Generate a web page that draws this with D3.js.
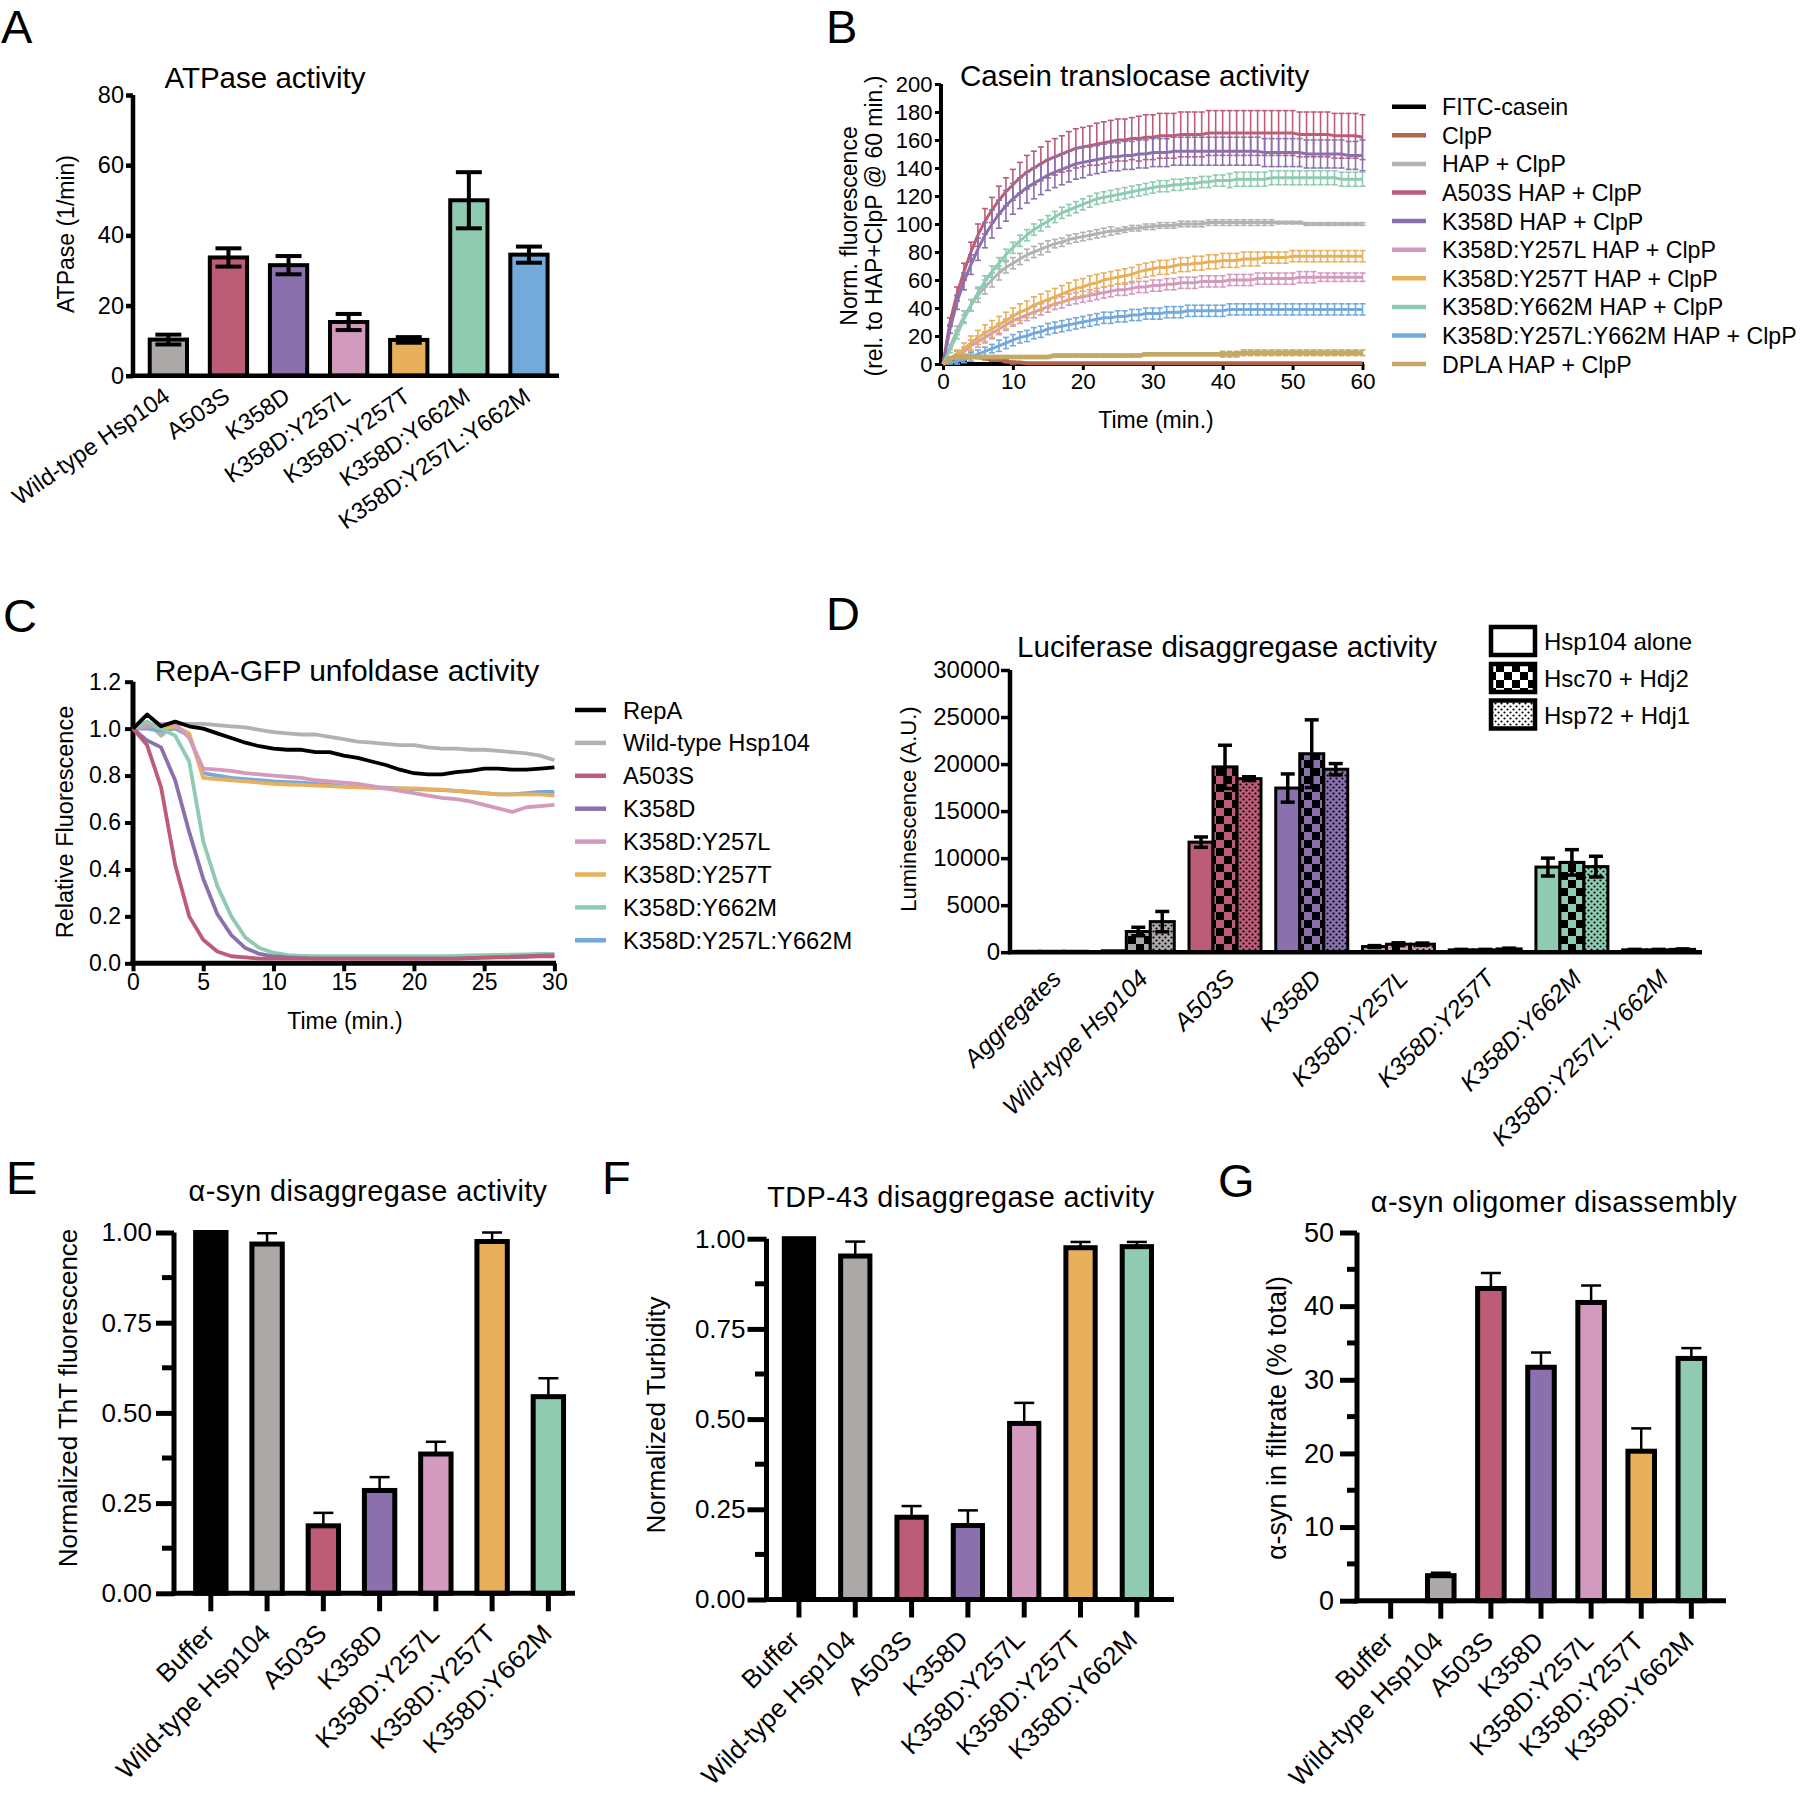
<!DOCTYPE html>
<html>
<head>
<meta charset="utf-8">
<script src="https://cdn.jsdelivr.net/npm/d3@7/dist/d3.min.js"></script>
<style>
html,body{margin:0;padding:0;background:#fff;}
svg{display:block;}
</style>
</head>
<body>
<svg id="fig" width="1800" height="1795" xmlns="http://www.w3.org/2000/svg"></svg>
<script>
// ======================= DATA =======================
// ---- Panel A: ATPase activity ----
const atpCategories = ["Wild-type Hsp104","A503S","K358D","K358D:Y257L","K358D:Y257T","K358D:Y662M","K358D:Y257L:Y662M"];
const atpValues = [10.3, 33.7, 31.5, 15.3, 10.2, 50.0, 34.5];
const atpErrors = [1.4, 2.6, 2.6, 2.3, 0.8, 8.0, 2.3];
const atpTicks = [0, 20, 40, 60, 80];

// ---- Panel B: Casein translocase activity ----
const caseinTime = [0,1,2,3,4,5,6,7,8,9,10,11,12,13,14,15,16,17,18,19,20,21,22,23,24,25,26,27,28,29,30,
  31,32,33,34,35,36,37,38,39,40,41,42,43,44,45,46,47,48,49,50,51,52,53,54,55,56,57,58,59,60];
const caseinNames = ["FITC-casein","ClpP","HAP + ClpP","A503S HAP + ClpP","K358D HAP + ClpP",
  "K358D:Y257L HAP + ClpP","K358D:Y257T HAP + ClpP","K358D:Y662M HAP + ClpP","K358D:Y257L:Y662M HAP + ClpP","DPLA HAP + ClpP"];
const caseinFITC = [0,2,3,1,0,0,0,0,0,0, 0,0,0,0,0,0,0,0,0,0, 0,0,0,0,0,0,0,0,0,0, 0,0,0,0,0,0,0,0,0,0, 0,0,0,0,0,0,0,0,0,0, 0,0,0,0,0,0,0,0,0,0, 0];
const caseinFITCsd = [0,1,1,1,0,0,0,0,0,0, 0,0,0,0,0,0,0,0,0,0, 0,0,0,0,0,0,0,0,0,0, 0,0,0,0,0,0,0,0,0,0, 0,0,0,0,0,0,0,0,0,0, 0,0,0,0,0,0,0,0,0,0, 0];
const caseinClpP = [0,4,6,6,5,5,4,3,3,2, 1,1,0.5,0.5,0.5,0.5,0.5,0.5,0.5,0.5, 0.5,0.5,0.5,0.5,0.5,0.5,0.5,0.5,0.5,0.5, 0.5,0.5,0.5,0.5,0.5,0.5,0.5,0.5,0.5,0.5, 0.5,0.5,0.5,0.5,0.5,0.5,0.5,0.5,0.5,0.5, 0.5,0.5,0.5,0.5,0.5,0.5,0.5,0.5,0.5,0.5, 0.5];
const caseinClpPsd = [0,1,1,1,1,1,1,1,1,1, 1,0,0,0,0,0,0,0,0,0, 0,0,0,0,0,0,0,0,0,0, 0,0,0,0,0,0,0,0,0,0, 0,0,0,0,0,0,0,0,0,0, 0,0,0,0,0,0,0,0,0,0, 0];
const caseinHAP = [0,12,24,34,42,49,55,60,65,69, 72,75,78,80,82,84,86,87,89,90, 91,92,93,94,95,95,96,97,97,98, 98,99,99,99,100,100,100,100,101,101, 101,101,101,101,101,101,101,101,101,101, 101,101,100,100,100,100,100,100,100,100, 100];
const caseinHAPsd = [0,2,3,4,4,5,5,5,5,4, 4,4,4,4,4,4,3,3,3,3, 3,3,3,3,3,2,2,2,2,2, 2,2,2,2,2,2,2,2,2,2, 2,2,2,2,2,2,2,2,1,1, 1,1,1,1,1,1,1,1,1,1, 1];
const caseinA503S = [0,30,50,66,80,92,102,110,117,123, 128,133,137,140,143,146,148,150,152,154, 155,156,157,158,159,160,160,161,161,162, 162,163,163,163,164,164,164,164,165,165, 165,165,165,165,165,165,165,165,165,165, 165,164,164,164,164,164,163,163,163,163, 162];
const caseinA503Ssd = [0,3,5,6,7,8,9,9,10,10, 11,11,12,12,12,13,13,13,14,14, 14,14,15,15,15,15,15,15,16,16, 16,16,16,16,16,16,16,16,16,16, 16,16,16,16,16,16,16,16,16,16, 16,16,16,16,16,16,16,16,16,16, 16];
const caseinK358D = [0,25,44,59,71,82,92,100,107,113, 118,122,126,129,132,135,137,139,141,143, 144,145,146,147,148,148,149,149,150,150, 151,151,151,152,152,152,152,152,152,152, 152,152,152,152,152,152,151,151,151,151, 151,151,150,150,150,150,150,150,149,149, 149];
const caseinK358Dsd = [0,3,5,6,7,8,9,10,10,11, 11,11,11,11,11,11,11,11,11,11, 11,10,10,10,10,10,10,10,10,10, 10,10,10,10,10,10,10,10,10,10, 10,10,10,10,10,10,10,10,10,10, 10,10,10,10,10,10,10,10,10,10, 11];
const caseinY257L = [0,3,6,9,13,16,19,22,25,28, 31,33,35,37,39,41,43,44,46,47, 48,49,50,51,52,53,53,54,55,55, 56,56,57,57,58,58,58,59,59,59, 59,60,60,60,60,61,61,61,61,61, 61,62,62,62,62,62,62,62,62,62, 62];
const caseinY257Lsd = [0,2,3,3,4,4,4,4,4,4, 4,4,4,4,4,4,4,4,4,4, 4,4,4,4,4,4,4,4,4,4, 4,4,4,4,4,4,4,4,4,4, 4,4,4,4,4,4,4,4,4,4, 4,4,4,4,3,3,3,3,3,3, 3];
const caseinY257T = [0,3,7,11,15,19,22,25,28,31, 34,37,39,42,44,46,48,50,52,54, 55,57,58,60,61,62,63,64,66,67, 68,69,69,70,71,71,72,72,73,73, 74,74,74,75,75,75,76,76,76,76, 77,77,77,77,77,77,77,77,77,77, 77];
const caseinY257Tsd = [0,2,3,4,5,5,6,6,6,6, 6,6,6,6,6,6,6,6,6,6, 6,6,6,5,5,5,5,5,5,5, 5,5,5,5,5,5,5,5,5,5, 5,5,5,5,5,5,4,4,4,4, 4,4,4,4,4,4,4,4,4,4, 4];
const caseinY662M = [0,10,21,32,42,51,59,66,72,78, 83,88,92,96,99,102,105,108,110,112, 114,116,118,119,120,121,122,123,124,125, 126,127,127,128,128,129,129,130,130,131, 131,131,132,132,132,132,132,133,133,133, 133,133,133,133,133,133,133,132,132,132, 132];
const caseinY662Msd = [0,2,3,3,4,4,4,4,4,4, 4,4,4,4,4,4,4,4,4,4, 4,4,4,4,4,4,4,4,4,4, 4,4,4,4,4,4,4,4,4,4, 4,5,5,5,5,5,5,5,5,5, 5,5,5,5,5,5,5,5,5,5, 5];
const caseinTriple = [0,1,2,3,5,7,9,11,13,15, 17,19,20,22,23,25,26,27,28,29, 30,31,32,33,33,34,34,35,35,36, 36,36,37,37,37,38,38,38,38,38, 38,39,39,39,39,39,39,39,39,39, 39,39,39,39,39,39,39,39,39,39, 39];
const caseinTriplesd = [0,1,2,2,3,3,3,3,4,4, 4,4,4,4,4,4,4,4,4,4, 4,4,4,4,4,4,4,4,4,4, 4,4,4,4,4,4,4,4,4,4, 4,4,4,4,4,4,4,4,4,4, 4,4,4,4,4,4,4,4,4,4, 4];
const caseinDPLA = [0,4,5,5,5,5,5,5,5,5, 5,5,5,5,5,5,6,6,6,6, 6,6,6,6,6,6,6,6,6,7, 7,7,7,7,7,7,7,7,7,7, 7,7,7,8,8,8,8,8,8,8, 8,8,8,8,8,8,8,8,8,8, 8];
const caseinDPLAsd = [0,1,1,1,1,1,1,1,1,1, 1,1,1,1,1,1,1,1,1,1, 1,1,1,1,1,1,1,1,1,1, 1,1,1,1,1,1,1,1,1,1, 2,2,2,2,2,2,2,2,2,2, 2,2,2,2,2,2,2,2,2,2, 2];
const caseinYTicks = [0,20,40,60,80,100,120,140,160,180,200];
const caseinXTicks = [0,10,20,30,40,50,60];

// ---- Panel C: RepA-GFP unfoldase activity ----
const repaTime = [0,1,2,3,4,5,6,7,8,9,10,11,12,13,14,15,16,17,18,19,20,21,22,23,24,25,26,27,28,29,30];
const repaNames = ["RepA","Wild-type Hsp104","A503S","K358D","K358D:Y257L","K358D:Y257T","K358D:Y662M","K358D:Y257L:Y662M"];
const repaRepA  = [1.00,1.06,1.01,1.03,1.01,1.00,0.98,0.96,0.94,0.925,0.915,0.91,0.91,0.90,0.90,0.885,0.875,0.86,0.845,0.825,0.81,0.805,0.805,0.815,0.82,0.83,0.83,0.825,0.825,0.83,0.835];
const repaWT    = [1.00,1.03,0.97,1.02,1.02,1.02,1.015,1.01,1.005,0.995,0.985,0.98,0.975,0.975,0.965,0.955,0.945,0.94,0.935,0.93,0.93,0.92,0.915,0.915,0.91,0.91,0.905,0.90,0.895,0.885,0.865];
const repaA503S = [1.00,0.93,0.75,0.42,0.20,0.10,0.05,0.03,0.025,0.02,0.02,0.02,0.02,0.02,0.02,0.02,0.02,0.02,0.02,0.02,0.02,0.02,0.02,0.02,0.022,0.024,0.025,0.026,0.028,0.03,0.03];
const repaK358D = [1.00,0.95,0.92,0.78,0.56,0.36,0.21,0.12,0.065,0.04,0.03,0.025,0.022,0.02,0.02,0.02,0.02,0.02,0.02,0.02,0.02,0.02,0.02,0.02,0.022,0.024,0.026,0.028,0.03,0.033,0.035];
const repaY257L = [1.00,1.01,1.02,1.02,0.96,0.83,0.825,0.82,0.81,0.805,0.80,0.795,0.79,0.78,0.775,0.77,0.765,0.755,0.745,0.735,0.725,0.715,0.705,0.70,0.69,0.675,0.66,0.645,0.665,0.67,0.675];
const repaY257T = [1.00,1.02,1.00,1.01,0.98,0.79,0.785,0.78,0.775,0.77,0.765,0.762,0.76,0.757,0.755,0.752,0.75,0.748,0.745,0.745,0.745,0.742,0.74,0.735,0.73,0.725,0.72,0.72,0.72,0.72,0.715];
const repaY662M = [1.00,1.03,1.00,0.97,0.86,0.52,0.33,0.20,0.11,0.065,0.045,0.035,0.032,0.03,0.03,0.03,0.03,0.03,0.03,0.03,0.03,0.03,0.03,0.032,0.034,0.035,0.036,0.037,0.038,0.04,0.04];
const repaTriple = [1.00,1.00,0.99,1.00,0.97,0.81,0.80,0.79,0.785,0.78,0.775,0.772,0.77,0.765,0.76,0.755,0.752,0.75,0.748,0.745,0.742,0.74,0.738,0.735,0.73,0.725,0.72,0.72,0.725,0.73,0.73];
const repaYTicks = [0,0.2,0.4,0.6,0.8,1.0,1.2];
const repaXTicks = [0,5,10,15,20,25,30];

// ---- Panel D: Luciferase disaggregase activity ----
const lucCategories = ["Aggregates","Wild-type Hsp104","A503S","K358D","K358D:Y257L","K358D:Y257T","K358D:Y662M","K358D:Y257L:Y662M"];
const lucConditions = ["Hsp104 alone","Hsc70 + Hdj2","Hsp72 + Hdj1"];
const lucAlone    = [100, 150, 11700, 17450, 600, 250, 9050, 250];
const lucAloneErr = [0, 0, 550, 1500, 100, 50, 950, 50];
const lucHsc70    = [100, 2200, 19700, 21100, 850, 250, 9550, 250];
const lucHsc70Err = [0, 450, 2300, 3600, 150, 50, 1350, 50];
const lucHsp72    = [100, 3250, 18450, 19450, 850, 350, 9100, 300];
const lucHsp72Err = [0, 1080, 200, 600, 120, 80, 1100, 50];
const lucTicks = [0,5000,10000,15000,20000,25000,30000];

// ---- Panels E, F, G ----
const disaggCategories = ["Buffer","Wild-type Hsp104","A503S","K358D","K358D:Y257L","K358D:Y257T","K358D:Y662M"];
const thtValues = [1.0, 0.968, 0.187, 0.285, 0.386, 0.975, 0.545];
const thtErrors = [0, 0.030, 0.036, 0.037, 0.034, 0.025, 0.051];
const turbValues = [1.0, 0.952, 0.228, 0.205, 0.488, 0.975, 0.978];
const turbErrors = [0, 0.040, 0.031, 0.042, 0.057, 0.016, 0.013];
const oligoValues = [0, 3.4, 42.4, 31.7, 40.5, 20.3, 32.9];
const oligoErrors = [0, 0.4, 2.1, 2.0, 2.3, 3.1, 1.4];
const normTicks = [0, 0.25, 0.5, 0.75, 1.0];
const normMinor = [0.125, 0.375, 0.625, 0.875];
const oligoTicks = [0,10,20,30,40,50];
const oligoMinor = [5,15,25,35,45];

// ======================= STYLE =======================
const C = {gray:"#aca8a7", red:"#bd5c77", purple:"#8a71ad", pink:"#d49abd", orange:"#e8b05b",
  green:"#8ecbb0", blue:"#74a9dc", black:"#000000", brown:"#b0654f", olive:"#c4a866", lgray:"#b2b2b2"};
const FONT = "'Liberation Sans', Arial, Helvetica, sans-serif";

const svg = d3.select("#fig");
svg.append("rect").attr("width",1800).attr("height",1795).attr("fill","#fff");
const defs = svg.append("defs");

function text(g, s, x, y, size, o = {}) {
  const t = g.append("text").attr("x", x).attr("y", y).attr("font-family", FONT)
    .attr("font-size", size).attr("fill", "#000").attr("text-anchor", o.anchor || "start").text(s);
  if (o.rotate !== undefined) t.attr("transform", `rotate(${o.rotate},${x},${y})`);
  if (o.italic) t.attr("font-style", "italic");
  if (o.ls) t.attr("letter-spacing", o.ls);
  return t;
}

// panel letters
[["A",1,43],["B",826,43],["C",3,632],["D",826,630],["E",6,1194],["F",602,1194],["G",1218,1197]]
  .forEach(([s,x,y]) => text(svg, s, x, y, 47));

// ---------- generic bar panel (A, E, F, G) ----------
function barPanel(cfg) {
  const g = svg.append("g");
  const y = d3.scaleLinear().domain(cfg.domain).range([cfg.yBot, cfg.yTop]);
  const x = d3.scaleBand().domain(cfg.cats).range([cfg.x0, cfg.x1])
    .paddingInner(cfg.pad).paddingOuter(cfg.pad / 2);
  g.selectAll("rect.bar").data(cfg.cats).join("rect").attr("class","bar")
    .attr("x", d => x(d)).attr("width", x.bandwidth())
    .attr("y", (d,i) => y(cfg.vals[i])).attr("height", (d,i) => y(0) - y(cfg.vals[i]))
    .attr("fill", (d,i) => cfg.colors[i]).attr("stroke", "#000").attr("stroke-width", cfg.barStroke);
  const eg = g.append("g").attr("stroke", "#000").attr("stroke-width", cfg.errW);
  cfg.cats.forEach((d,i) => {
    const e = cfg.errs[i]; if (!e) return;
    const cx = x(d) + x.bandwidth()/2;
    const lo = cfg.errBoth ? cfg.vals[i] - e : cfg.vals[i];
    const hi = cfg.vals[i] + e;
    eg.append("line").attr("x1",cx).attr("x2",cx).attr("y1",y(lo)).attr("y2",y(hi));
    eg.append("line").attr("x1",cx-cfg.capW/2).attr("x2",cx+cfg.capW/2).attr("y1",y(hi)).attr("y2",y(hi));
    if (cfg.errBoth) eg.append("line").attr("x1",cx-cfg.capW/2).attr("x2",cx+cfg.capW/2).attr("y1",y(lo)).attr("y2",y(lo));
  });
  const ax = d3.axisLeft(y).tickValues(cfg.ticks).tickFormat(cfg.fmt).tickSize(cfg.tickLen).tickSizeOuter(0).tickPadding(cfg.tickPad);
  const ag = g.append("g").attr("transform", `translate(${cfg.axisX},0)`).call(ax);
  ag.select(".domain").remove();
  ag.selectAll(".tick line").attr("stroke","#000").attr("stroke-width", cfg.axisW);
  ag.selectAll(".tick text").attr("font-family", FONT).attr("font-size", cfg.tickFont).attr("fill","#000");
  ag.append("line").attr("x1",0).attr("x2",0).attr("y1",y(cfg.domain[0]) + cfg.axisW/2).attr("y2",y(cfg.domain[1]))
    .attr("stroke","#000").attr("stroke-width", cfg.axisW);
  if (cfg.minor) {
    ag.selectAll("line.minor").data(cfg.minor).join("line").attr("class","minor")
      .attr("x1",-cfg.minorLen).attr("x2",0).attr("y1",d=>y(d)).attr("y2",d=>y(d))
      .attr("stroke","#000").attr("stroke-width", cfg.axisW);
  }
  g.append("line").attr("x1", cfg.axisX - cfg.axisW/2).attr("x2", cfg.xEnd).attr("y1", y(0)).attr("y2", y(0))
    .attr("stroke","#000").attr("stroke-width", cfg.axisW);
  if (cfg.xTickLen) {
    const xa = d3.axisBottom(x).tickSize(cfg.xTickLen).tickSizeOuter(0).tickFormat("");
    const xg = g.append("g").attr("transform", `translate(0,${y(0)})`).call(xa);
    xg.select(".domain").remove();
    xg.selectAll(".tick line").attr("stroke","#000").attr("stroke-width", cfg.axisW);
  }
  cfg.cats.forEach(d => {
    const cx = x(d) + x.bandwidth()/2 + cfg.lblDx;
    text(g, d, cx, y(0) + cfg.lblDy, cfg.lblFont, {anchor:"end", rotate:-cfg.lblAngle});
  });
  text(g, cfg.title, cfg.titleX, cfg.titleY, cfg.titleFont, {anchor:"middle", ls: cfg.titleLs});
  text(g, cfg.ylabel, cfg.ylabX, cfg.ylabY, cfg.ylabFont, {anchor:"middle", rotate:-90});
  return {x, y};
}

// ---------- Panel A ----------
barPanel({
  cats: atpCategories, vals: atpValues, errs: atpErrors,
  colors: [C.gray, C.red, C.purple, C.pink, C.orange, C.green, C.blue],
  domain: [0,80], yBot: 375.7, yTop: 95, x0: 138.3, x1: 559, pad: 0.38, axisX: 133, xEnd: 559,
  barStroke: 4, errW: 4, capW: 26, errBoth: true,
  ticks: atpTicks, fmt: d3.format("d"), tickLen: 7, tickPad: 2, tickFont: 23.5, axisW: 4.5,
  lblDx: 3, lblDy: 24, lblFont: 23.5, lblAngle: 35,
  title: "ATPase activity", titleX: 265, titleY: 88, titleFont: 29.5,
  ylabel: "ATPase (1/min)", ylabX: 74, ylabY: 234, ylabFont: 23
});

// ---------- Panel E ----------
barPanel({
  cats: disaggCategories, vals: thtValues, errs: thtErrors,
  colors: [C.black, C.gray, C.red, C.purple, C.pink, C.orange, C.green],
  domain: [0,1], yBot: 1593.3, yTop: 1232.5, x0: 182.7, x1: 576.5, pad: 0.46, axisX: 174, xEnd: 575,
  barStroke: 5, errW: 2.5, capW: 20, errBoth: false,
  ticks: normTicks, fmt: d3.format(".2f"), tickLen: 18, tickPad: 4, tickFont: 26, axisW: 5,
  minor: normMinor, minorLen: 12, xTickLen: 18,
  lblDx: 5, lblDy: 42, lblFont: 26, lblAngle: 45,
  title: "\u03b1-syn disaggregase activity", titleX: 368, titleY: 1201, titleFont: 28.8, titleLs: 0.4,
  ylabel: "Normalized ThT fluorescence", ylabX: 77, ylabY: 1398, ylabFont: 26
});

// ---------- Panel F ----------
barPanel({
  cats: disaggCategories, vals: turbValues, errs: turbErrors,
  colors: [C.black, C.gray, C.red, C.purple, C.pink, C.orange, C.green],
  domain: [0,1], yBot: 1599.5, yTop: 1238.7, x0: 770.8, x1: 1165, pad: 0.48, axisX: 766.5, xEnd: 1174,
  barStroke: 5, errW: 2.5, capW: 20, errBoth: false,
  ticks: normTicks, fmt: d3.format(".2f"), tickLen: 19, tickPad: 2, tickFont: 26, axisW: 5,
  minor: normMinor, minorLen: 11.5, xTickLen: 18,
  lblDx: 2, lblDy: 42, lblFont: 26, lblAngle: 45,
  title: "TDP-43 disaggregase activity", titleX: 961, titleY: 1207, titleFont: 28.8, titleLs: 0.4,
  ylabel: "Normalized Turbidity", ylabX: 665, ylabY: 1415, ylabFont: 26
});

// ---------- Panel G ----------
barPanel({
  cats: disaggCategories, vals: oligoValues, errs: oligoErrors,
  colors: [C.black, C.gray, C.red, C.purple, C.pink, C.orange, C.green],
  domain: [0,50], yBot: 1600.7, yTop: 1232.5, x0: 1365.6, x1: 1716.4, pad: 0.47, axisX: 1357, xEnd: 1726,
  barStroke: 5, errW: 2.5, capW: 20, errBoth: false,
  ticks: oligoTicks, fmt: d3.format("d"), tickLen: 17, tickPad: 6, tickFont: 27, axisW: 5,
  minor: oligoMinor, minorLen: 10, xTickLen: 18,
  lblDx: 4, lblDy: 42, lblFont: 26, lblAngle: 45,
  title: "\u03b1-syn oligomer disassembly", titleX: 1554, titleY: 1212, titleFont: 28.8, titleLs: 0.4,
  ylabel: "\u03b1-syn in filtrate (% total)", ylabX: 1286, ylabY: 1418, ylabFont: 27
});

// ---------- Panel B ----------
(function(){
  const g = svg.append("g");
  const x = d3.scaleLinear().domain([0,60]).range([943, 1362.5]);
  const y = d3.scaleLinear().domain([0,200]).range([364, 84]);
  const series = [
    {name: caseinNames[0], v: caseinFITC, sd: caseinFITCsd, c: C.black, w: 3},
    {name: caseinNames[1], v: caseinClpP, sd: caseinClpPsd, c: C.brown, w: 4},
    {name: caseinNames[2], v: caseinHAP, sd: caseinHAPsd, c: C.lgray, w: 3},
    {name: caseinNames[3], v: caseinA503S, sd: caseinA503Ssd, c: C.red, w: 3},
    {name: caseinNames[4], v: caseinK358D, sd: caseinK358Dsd, c: C.purple, w: 3},
    {name: caseinNames[5], v: caseinY257L, sd: caseinY257Lsd, c: C.pink, w: 3},
    {name: caseinNames[6], v: caseinY257T, sd: caseinY257Tsd, c: C.orange, w: 3},
    {name: caseinNames[7], v: caseinY662M, sd: caseinY662Msd, c: C.green, w: 3},
    {name: caseinNames[8], v: caseinTriple, sd: caseinTriplesd, c: C.blue, w: 3},
    {name: caseinNames[9], v: caseinDPLA, sd: caseinDPLAsd, c: C.olive, w: 4.5}
  ];
  const ya = d3.axisLeft(y).tickValues(caseinYTicks).tickSize(6).tickSizeOuter(0).tickPadding(2.5);
  const yg = g.append("g").attr("transform","translate(941,0)").call(ya);
  yg.select(".domain").remove();
  yg.append("line").attr("x1",0).attr("x2",0).attr("y1",366).attr("y2",84).attr("stroke","#000").attr("stroke-width",4);
  yg.selectAll(".tick line").attr("stroke","#000").attr("stroke-width",3);
  yg.selectAll(".tick text").attr("font-family",FONT).attr("font-size",22).attr("fill","#000");
  const xa = d3.axisBottom(x).tickValues(caseinXTicks).tickSize(6).tickSizeOuter(0).tickPadding(3);
  const xg = g.append("g").attr("transform","translate(0,364)").call(xa);
  xg.select(".domain").remove();
  xg.append("line").attr("x1",939).attr("x2",1364).attr("y1",0).attr("y2",0).attr("stroke","#000").attr("stroke-width",4);
  xg.selectAll(".tick line").attr("stroke","#000").attr("stroke-width",3);
  xg.selectAll(".tick text").attr("font-family",FONT).attr("font-size",22.5).attr("fill","#000");
  const line = d3.line().x((d,i)=>x(caseinTime[i])).y(d=>y(d));
  series.forEach(s => {
    const eg = g.append("g").attr("stroke", s.c).attr("stroke-width", 1.6);
    s.v.forEach((v,i) => {
      const e = s.sd[i]; if (!e) return;
      const cx = x(caseinTime[i]);
      eg.append("line").attr("x1",cx).attr("x2",cx).attr("y1",y(v-e)).attr("y2",y(v+e));
      eg.append("line").attr("x1",cx-3).attr("x2",cx+3).attr("y1",y(v+e)).attr("y2",y(v+e));
      eg.append("line").attr("x1",cx-3).attr("x2",cx+3).attr("y1",y(v-e)).attr("y2",y(v-e));
    });
    g.append("path").datum(s.v).attr("d", line).attr("fill","none").attr("stroke", s.c).attr("stroke-width", s.w);
  });
  text(g, "Casein translocase activity", 960, 86, 29.5);
  text(g, "Time (min.)", 1156, 428, 23, {anchor:"middle"});
  text(g, "Norm. fluorescence", 857, 226, 23, {anchor:"middle", rotate:-90});
  text(g, "(rel. to HAP+ClpP @ 60 min.)", 882, 226, 23, {anchor:"middle", rotate:-90});
  series.forEach((s,i) => {
    const cy = 106.7 + i*28.6;
    g.append("line").attr("x1",1392).attr("x2",1426).attr("y1",cy).attr("y2",cy).attr("stroke",s.c).attr("stroke-width",4.5);
    text(g, s.name, 1442, cy + 8.5, 23.2);
  });
})();

// ---------- Panel C ----------
(function(){
  const g = svg.append("g");
  const x = d3.scaleLinear().domain([0,30]).range([133, 554.4]);
  const y = d3.scaleLinear().domain([0,1.2]).range([963.3, 681.7]);
  const series = [
    {name: repaNames[0], v: repaRepA, c: C.black},
    {name: repaNames[1], v: repaWT, c: C.lgray},
    {name: repaNames[2], v: repaA503S, c: C.red},
    {name: repaNames[3], v: repaK358D, c: C.purple},
    {name: repaNames[4], v: repaY257L, c: C.pink},
    {name: repaNames[5], v: repaY257T, c: C.orange},
    {name: repaNames[6], v: repaY662M, c: C.green},
    {name: repaNames[7], v: repaTriple, c: C.blue}
  ];
  const ya = d3.axisLeft(y).tickValues(repaYTicks).tickFormat(d3.format(".1f")).tickSize(8).tickSizeOuter(0).tickPadding(4);
  const yg = g.append("g").attr("transform","translate(133,0)").call(ya);
  yg.select(".domain").remove();
  yg.append("line").attr("x1",0).attr("x2",0).attr("y1",966).attr("y2",681.7).attr("stroke","#000").attr("stroke-width",5);
  yg.selectAll(".tick line").attr("stroke","#000").attr("stroke-width",4);
  yg.selectAll(".tick text").attr("font-family",FONT).attr("font-size",23).attr("fill","#000");
  const xa = d3.axisBottom(x).tickValues(repaXTicks).tickSize(8).tickSizeOuter(0).tickPadding(2);
  const xg = g.append("g").attr("transform","translate(0,963.3)").call(xa);
  xg.select(".domain").remove();
  xg.append("line").attr("x1",130.5).attr("x2",556).attr("y1",0).attr("y2",0).attr("stroke","#000").attr("stroke-width",5);
  xg.selectAll(".tick line").attr("stroke","#000").attr("stroke-width",4);
  xg.selectAll(".tick text").attr("font-family",FONT).attr("font-size",23).attr("fill","#000");
  const line = d3.line().x((d,i)=>x(repaTime[i])).y(d=>y(d));
  const order = [1,7,5,4,6,3,2,0];
  order.forEach(k => {
    const s = series[k];
    g.append("path").datum(s.v).attr("d", line).attr("fill","none").attr("stroke", s.c)
      .attr("stroke-width", 3.8).attr("stroke-linejoin","round");
  });
  text(g, "RepA-GFP unfoldase activity", 347, 681, 30, {anchor:"middle"});
  text(g, "Time (min.)", 345, 1029, 23, {anchor:"middle"});
  text(g, "Relative Fluorescence", 73, 822, 23.5, {anchor:"middle", rotate:-90});
  series.forEach((s,i) => {
    const cy = 710 + i*32.9;
    g.append("line").attr("x1",575).attr("x2",606).attr("y1",cy).attr("y2",cy).attr("stroke",s.c).attr("stroke-width",4.5);
    text(g, s.name, 623, cy + 8.5, 23.7);
  });
})();

// ---------- Panel D ----------
(function(){
  const g = svg.append("g");
  const fills = [C.gray, C.gray, C.red, C.purple, C.pink, C.orange, C.green, C.blue];
  function checker(id, col) {
    const p = defs.append("pattern").attr("id", id).attr("patternUnits","userSpaceOnUse").attr("width",16).attr("height",16);
    p.append("rect").attr("width",16).attr("height",16).attr("fill",col);
    p.append("rect").attr("x",0).attr("y",0).attr("width",8).attr("height",8).attr("fill","#000");
    p.append("rect").attr("x",8).attr("y",8).attr("width",8).attr("height",8).attr("fill","#000");
  }
  function dots(id, col) {
    const p = defs.append("pattern").attr("id", id).attr("patternUnits","userSpaceOnUse").attr("width",6).attr("height",6);
    p.append("rect").attr("width",6).attr("height",6).attr("fill",col);
    p.append("circle").attr("cx",1.5).attr("cy",1.5).attr("r",1.1).attr("fill","#000");
    p.append("circle").attr("cx",4.5).attr("cy",4.5).attr("r",1.1).attr("fill","#000");
  }
  fills.forEach((c,i) => { checker("chk"+i, c); dots("dot"+i, c); });
  checker("chkL", "#fff"); dots("dotL", "#fff");

  const x0 = d3.scaleBand().domain(lucCategories).range([1008.2, 1702]).paddingInner(0.17).paddingOuter(0.085);
  const x1 = d3.scaleBand().domain(lucConditions).range([0, x0.bandwidth()]).padding(0);
  const y = d3.scaleLinear().domain([0,30000]).range([952.2, 670]);
  const vals = [lucAlone, lucHsc70, lucHsp72];
  const errs = [lucAloneErr, lucHsc70Err, lucHsp72Err];
  lucCategories.forEach((cat, ci) => {
    lucConditions.forEach((cond, k) => {
      const v = vals[k][ci];
      const fill = k === 0 ? fills[ci] : (k === 1 ? `url(#chk${ci})` : `url(#dot${ci})`);
      g.append("rect").attr("x", x0(cat) + x1(cond)).attr("width", x1.bandwidth())
        .attr("y", y(v)).attr("height", y(0) - y(v)).attr("fill", fill)
        .attr("stroke","#000").attr("stroke-width",3);
    });
  });
  lucCategories.forEach((cat, ci) => {
    lucConditions.forEach((cond, k) => {
      const v = vals[k][ci], e = errs[k][ci]; if (!e) return;
      const cx = x0(cat) + x1(cond) + x1.bandwidth()/2;
      const eg = g.append("g").attr("stroke","#000").attr("stroke-width",3.5);
      eg.append("line").attr("x1",cx).attr("x2",cx).attr("y1",y(v-e)).attr("y2",y(v+e));
      eg.append("line").attr("x1",cx-7).attr("x2",cx+7).attr("y1",y(v+e)).attr("y2",y(v+e));
      eg.append("line").attr("x1",cx-7).attr("x2",cx+7).attr("y1",y(v-e)).attr("y2",y(v-e));
    });
  });
  const ya = d3.axisLeft(y).tickValues(lucTicks).tickFormat(d3.format("d")).tickSize(9).tickSizeOuter(0).tickPadding(1);
  const yg = g.append("g").attr("transform","translate(1010,0)").call(ya);
  yg.select(".domain").remove();
  yg.append("line").attr("x1",0).attr("x2",0).attr("y1",954).attr("y2",670).attr("stroke","#000").attr("stroke-width",4.5);
  yg.selectAll(".tick line").attr("stroke","#000").attr("stroke-width",3.5);
  yg.selectAll(".tick text").attr("font-family",FONT).attr("font-size",24).attr("fill","#000");
  g.append("line").attr("x1",1008).attr("x2",1702).attr("y1",952.2).attr("y2",952.2).attr("stroke","#000").attr("stroke-width",4.5);
  lucCategories.forEach(cat => {
    const cx = x0(cat) + x0.bandwidth()/2 + 11;
    text(g, cat, cx, 980, 24.5, {anchor:"end", rotate:-45, italic:true});
  });
  text(g, "Luciferase disaggregase activity", 1227, 657, 29.5, {anchor:"middle"});
  text(g, "Luminescence (A.U.)", 916, 809, 22, {anchor:"middle", rotate:-90});
  const legFills = ["#fff", "url(#chkL)", "url(#dotL)"];
  lucConditions.forEach((cond, k) => {
    const by = [627, 664, 700.5][k];
    g.append("rect").attr("x",1491).attr("y",by).attr("width",44).attr("height",28)
      .attr("fill", legFills[k]).attr("stroke","#000").attr("stroke-width",4.5);
    text(g, cond, 1544, by + 23, 24);
  });
})();
</script>
</body>
</html>
